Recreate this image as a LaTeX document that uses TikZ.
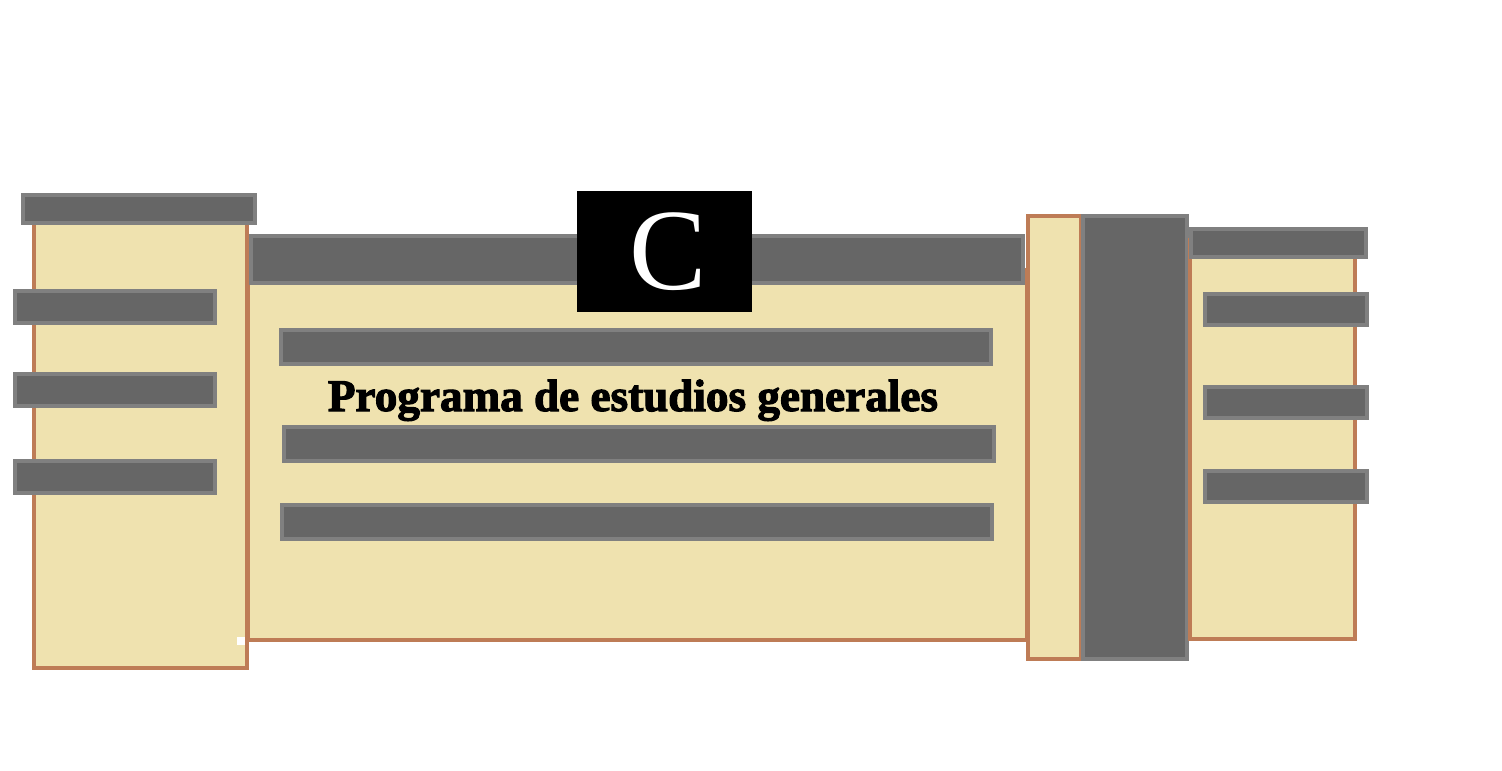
\documentclass[tikz,border=0pt]{standalone}
\usepackage{fontspec}
\setmainfont{Liberation Serif}
\newfontfamily\heavyfont[BoldFeatures={FakeBold=2.5}]{Liberation Serif}
\definecolor{beige}{RGB}{239,226,175}
\definecolor{brick}{RGB}{190,124,86}
\definecolor{gborder}{RGB}{128,128,128}
\definecolor{gfill}{RGB}{102,102,102}
\begin{document}
\begin{tikzpicture}[x=0.5pt,y=-0.5pt,
  wall/.style={fill=beige,draw=brick,line width=1.6pt},
  bar/.style={fill=gfill,draw=gborder,line width=2pt}]
\useasboundingbox (0,0) rectangle (1502,770);
% left building
\draw[wall] (34,210) rectangle (247,668);
\draw[bar] (23,195) rectangle (255,223);
\draw[bar] (15,291) rectangle (215,323);
\draw[bar] (15,374) rectangle (215,406);
\draw[bar] (15,461) rectangle (215,493);
\fill[white] (237,637) rectangle (245,645);
% main building
\draw[wall] (248,270) rectangle (1027,640);
\draw[bar] (251,236) rectangle (1023,283);
\draw[bar] (281,330) rectangle (991,364);
\draw[bar] (284,427) rectangle (994,461);
\draw[bar] (282,505) rectangle (992,539);
\node[anchor=base,inner sep=0pt] (title) at (633,411)
  {\resizebox{305pt}{!}{\heavyfont\bfseries Programa de estudios generales}};
% C block
\fill[black] (577,191) rectangle (752,312);
\node[text=white,inner sep=0pt,font=\fontsize{58pt}{60pt}\selectfont] (c) at (668,252) {C};
% right column
\draw[wall] (1028,216) rectangle (1081,659);
\draw[bar] (1083,216) rectangle (1187,659);
% right building
\draw[wall] (1190,240) rectangle (1355,639);
\draw[bar] (1191,229) rectangle (1366,257);
\draw[bar] (1205,294) rectangle (1367,325);
\draw[bar] (1205,387) rectangle (1367,418);
\draw[bar] (1205,471) rectangle (1367,502);
\end{tikzpicture}
\end{document}
